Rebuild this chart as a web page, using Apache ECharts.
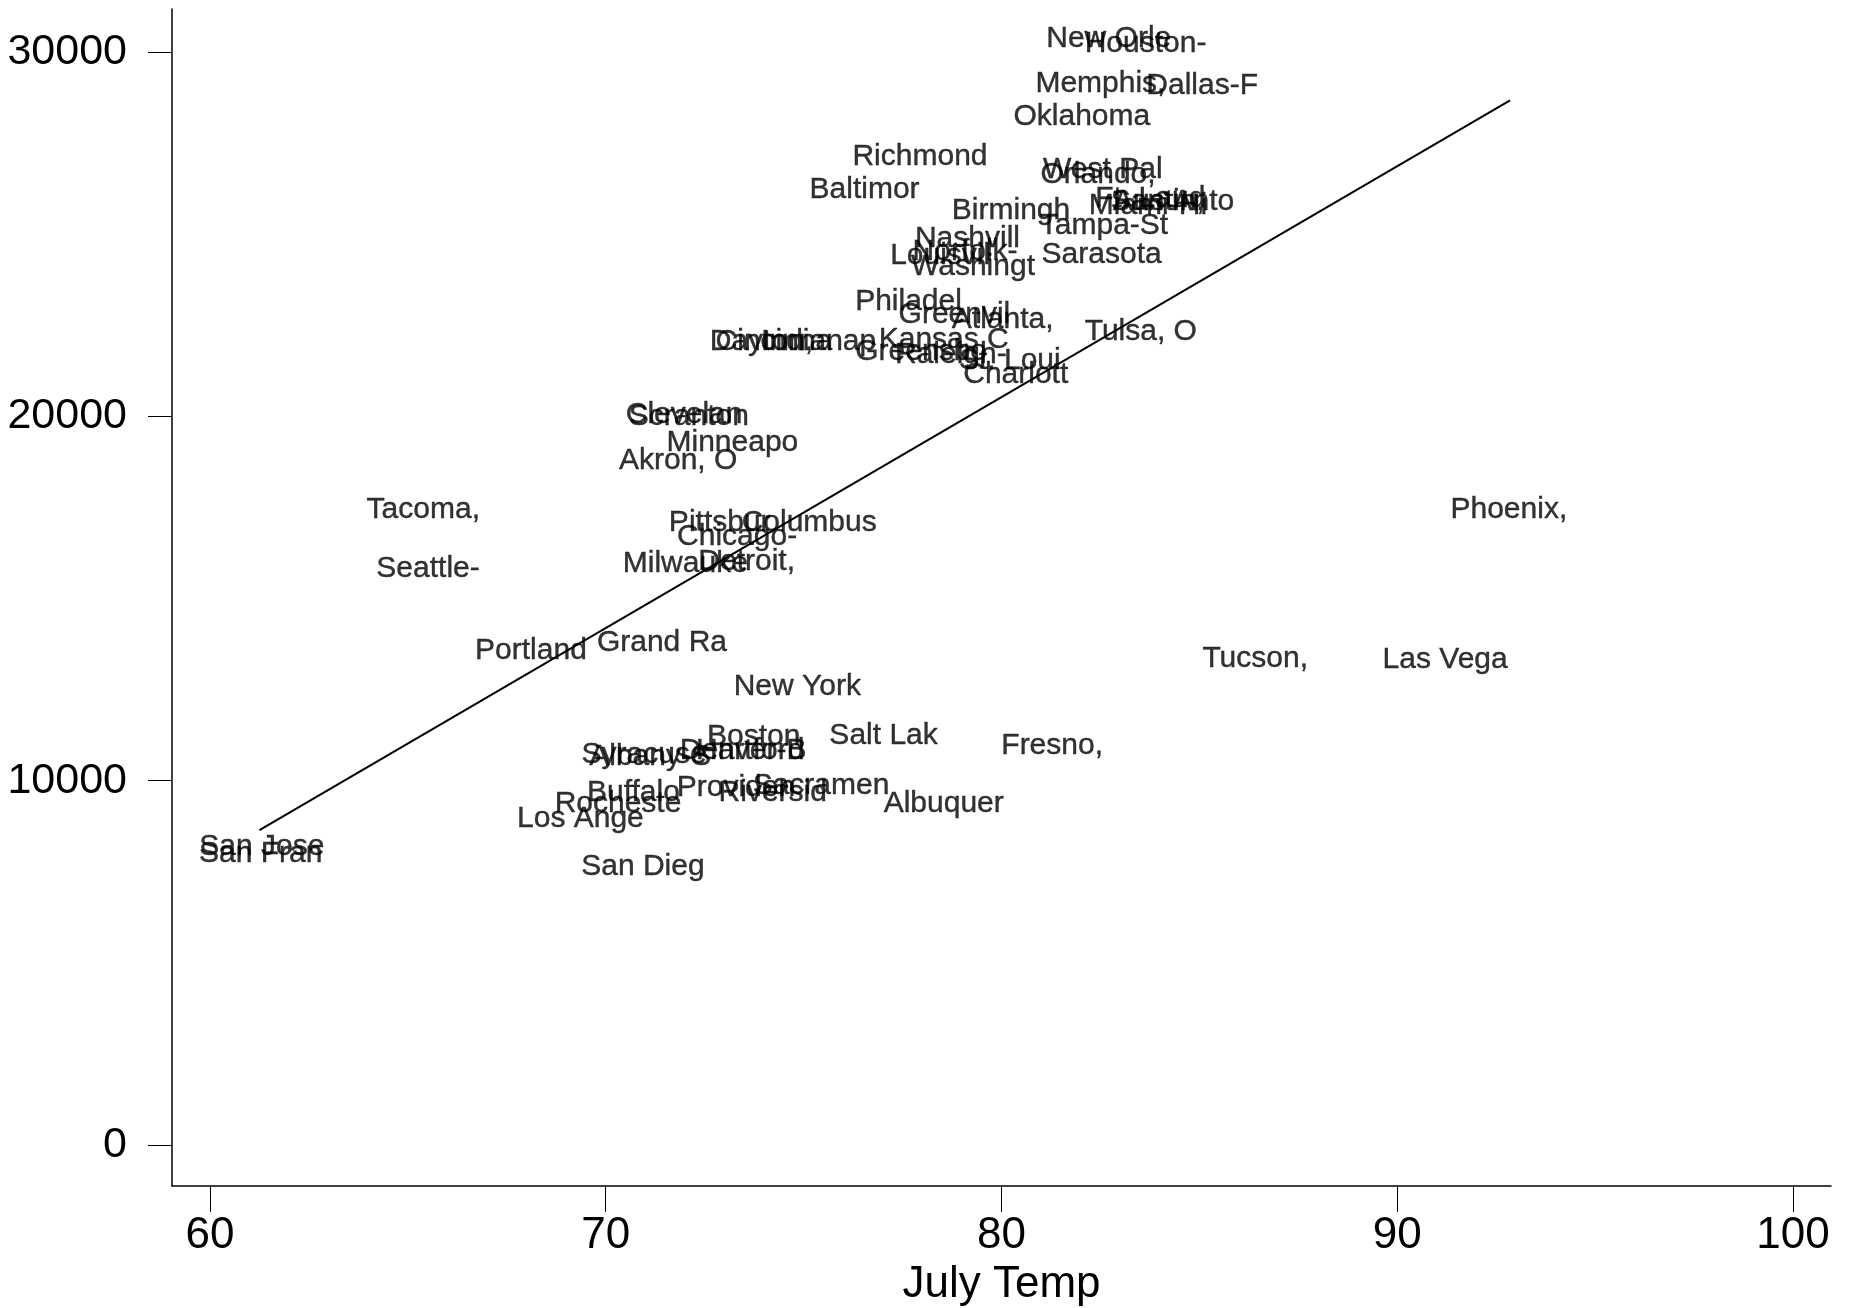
<!DOCTYPE html>
<html>
<head>
<meta charset="utf-8">
<script src="https://cdn.jsdelivr.net/npm/echarts@6/dist/echarts.min.js"></script>
<style>
  html, body { margin: 0; padding: 0; background: #fff; overflow: hidden; }
  #chart { width: 1849px; height: 1308px; }
</style>
</head>
<body>
<div id="chart"></div>
<script>
// city labels, placed at (July temp, value)
const cities = [
  "New Orle", "Houston-", "Memphis,", "Dallas-F", "Oklahoma", "Richmond", "Baltimor",
  "West Pal", "Orlando,", "Birmingh", "Tampa-St", "Sarasota", "San Anto", "Miami-Hi",
  "Ft. Laud", "Austin, ", "Nashvill", "Norfolk-", "Louisvil", "Washingt", "Philadel",
  "Greenvil", "Atlanta,", "Tulsa, O", "Dayton, ", "Cincinna", "Indianap", "Kansas C",
  "Greensbo", "Raleigh-", "St. Loui", "Charlott", "Clevelan", "Scranton", "Minneapo",
  "Akron, O", "Tacoma,", "Pittsbur", "Columbus", "Chicago-", "Milwauke", "Detroit,",
  "Seattle-", "Portland", "Grand Ra", "New York", "Tucson,", "Las Vega", "Phoenix,",
  "Boston", "Salt Lak", "Fresno,", "Syracuse", "Albany-S", "Denver-B", "Hartford",
  "Buffalo", "Rocheste", "Los Ange", "Providen", "Riversid", "Sacramen", "Albuquer",
  "San Dieg", "San Jose", "San Fran"
];
const julyTemp = [
  82.71, 83.64, 82.50, 85.07, 82.03, 77.94, 76.54,
  82.56, 82.44, 80.24, 82.59, 82.53, 84.32, 83.70,
  83.76, 84.08, 79.14, 79.08, 78.45, 79.28, 77.65,
  78.81, 80.03, 83.52, 74.04, 74.25, 75.38, 78.54,
  77.97, 78.72, 80.21, 80.36, 71.98, 72.10, 73.20,
  71.83, 65.39, 72.88, 75.14, 73.32, 72.01, 73.56,
  65.51, 68.11, 71.42, 74.84, 86.41, 91.21, 92.82,
  73.74, 77.02, 81.28, 70.97, 71.12, 73.47, 73.65,
  70.70, 70.31, 69.36, 73.29, 74.22, 75.44, 78.54,
  70.94, 61.31, 61.28
];
const values = [
  30355, 30226, 29127, 29063, 28223, 27124, 26220,
  26769, 26640, 25638, 25218, 24443, 25896, 25767,
  25961, 25896, 24863, 24507, 24410, 24119, 23150,
  22795, 22665, 22310, 22052, 22052, 22052, 22116,
  21761, 21696, 21535, 21147, 20048, 19984, 19273,
  18788, 17431, 17076, 17076, 16688, 15945, 16010,
  15816, 13554, 13780, 12585, 13360, 13328, 17431,
  11195, 11228, 10969, 10711, 10646, 10808, 10808,
  9677, 9354, 8966, 9806, 9677, 9871, 9354,
  7641, 8191, 7997
];
// linear fit, end points
const fitX = [61.25, 92.85];
const fitY = [8643, 28675];

const xTicks = [60, 70, 80, 90, 100];
const yTicks = [0, 10000, 20000, 30000];

const chart = echarts.init(document.getElementById('chart'), null, { renderer: 'canvas' });

const sans = "'Liberation Sans', Arial, Helvetica, sans-serif";

const option = {
  animation: false,
  backgroundColor: '#fff',
  grid: { left: 172, right: 18, top: 9, bottom: 122, containLabel: false, outerBoundsMode: 'none' },
  xAxis: {
    type: 'value',
    min: 59.04,
    max: 100.96,
    name: 'July Temp',
    nameLocation: 'middle',
    nameGap: 66,
    nameTextStyle: { fontFamily: sans, fontSize: 44, color: '#000' },
    splitLine: { show: false },
    axisLine: { onZero: false, lineStyle: { color: '#000', width: 1.5 } },
    axisTick: { show: true, length: 26, customValues: xTicks, lineStyle: { color: '#000', width: 1 } },
    axisLabel: { customValues: xTicks, margin: 28, fontFamily: sans, fontSize: 44, color: '#000' }
  },
  yAxis: {
    type: 'value',
    min: -1125,
    max: 31180,
    splitLine: { show: false },
    axisLine: { show: true, onZero: false, lineStyle: { color: '#000', width: 1.5 } },
    axisTick: { show: true, length: 24, customValues: yTicks, lineStyle: { color: '#000', width: 1 } },
    axisLabel: {
      customValues: yTicks, margin: 45, fontFamily: sans, fontSize: 43, color: '#000',
      formatter: v => String(v)
    }
  },
  series: [
    {
      type: 'scatter',
      symbolSize: 0,
      data: cities.map((c, i) => ({ name: c, value: [julyTemp[i], values[i]] })),
      label: {
        show: true,
        position: 'inside',
        align: 'center',
        verticalAlign: 'middle',
        formatter: p => p.name,
        fontFamily: sans,
        fontSize: 30,
        color: '#000',
        textBorderColor: '#000',
        textBorderWidth: 0.4
      },
      emphasis: { disabled: true },
      silent: true
    },
    {
      type: 'line',
      data: fitX.map((x, i) => [x, fitY[i]]),
      symbol: 'none',
      lineStyle: { color: '#000', width: 2 },
      silent: true
    }
  ]
};
option && chart.setOption(option);
</script>
</body>
</html>
